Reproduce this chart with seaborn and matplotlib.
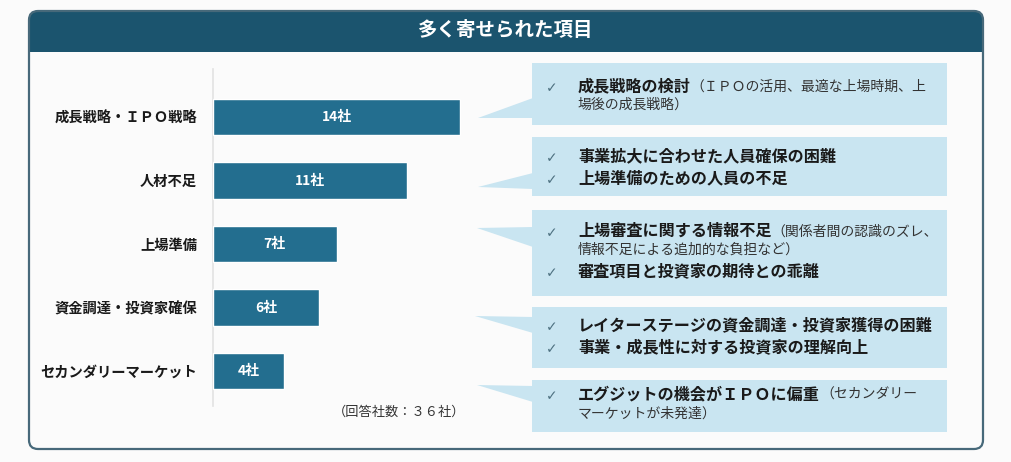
import matplotlib
matplotlib.use("Agg")
import matplotlib.pyplot as plt
from matplotlib.patches import FancyBboxPatch, Rectangle, Polygon
import seaborn as sns
import pandas as pd

# ---------------- data ----------------
title = "多く寄せられた項目"
categories = ["成長戦略・ＩＰＯ戦略", "人材不足", "上場準備", "資金調達・投資家確保", "セカンダリーマーケット"]
counts = [14, 11, 7, 6, 4]
value_suffix = "社"
note = "（回答社数：３６社）"

# callout lines: (has_check, bold part, regular part)
callout_1 = [(True, "成長戦略の検討", "（ＩＰＯの活用、最適な上場時期、上"), (False, "", "場後の成長戦略）")]
callout_2 = [(True, "事業拡大に合わせた人員確保の困難", ""), (True, "上場準備のための人員の不足", "")]
callout_3 = [(True, "上場審査に関する情報不足", "（関係者間の認識のズレ、"),
             (False, "", "情報不足による追加的な負担など）"),
             (True, "審査項目と投資家の期待との乖離", "")]
callout_4 = [(True, "レイターステージの資金調達・投資家獲得の困難", ""), (True, "事業・成長性に対する投資家の理解向上", "")]
callout_5 = [(True, "エグジットの機会がＩＰＯに偏重", "（セカンダリー"), (False, "", "マーケットが未発達）")]
callouts = [callout_1, callout_2, callout_3, callout_4, callout_5]

# ---------------- style ----------------
sns.set_theme(style="white")
plt.rcParams["font.family"] = ["Noto Sans CJK JP", "DejaVu Sans"]

W, H = 1011, 462
BG = "#fbfbfb"
HEADER = "#1b546e"
BORDER = "#47697a"
BAR = "#236e8f"
CALLOUT = "#c9e5f1"
TEXT = "#1a1a1a"
CHECK = "#4f7282"

fig = plt.figure(figsize=(W / 100, H / 100), dpi=100, facecolor=BG)

# background axes in pixel coordinates
bg = fig.add_axes([0, 0, 1, 1])
bg.set_xlim(0, W)
bg.set_ylim(H, 0)
bg.axis("off")
bg.set_facecolor(BG)

# outer panel
L, R, T, B = 29, 983, 11, 449
bg.add_patch(FancyBboxPatch((L, T), R - L, B - T, boxstyle="round,pad=0,rounding_size=9",
                            facecolor=BG, edgecolor="none", zorder=1))
bg.add_patch(FancyBboxPatch((L, T), R - L, 41, boxstyle="round,pad=0,rounding_size=9",
                            facecolor=HEADER, edgecolor="none", zorder=2))
bg.add_patch(Rectangle((L, 32), R - L, 20, facecolor=HEADER, edgecolor="none", zorder=2))
bg.add_patch(FancyBboxPatch((L, T), R - L, B - T, boxstyle="round,pad=0,rounding_size=9",
                            facecolor="none", edgecolor=BORDER, linewidth=1.6, zorder=3))
bg.text((L + R) / 2, 31, title, color="white", fontsize=14, fontweight="bold",
        ha="center", va="center", zorder=4)

# callout boxes
boxes = [(532, 63, 947, 125), (532, 137, 947, 196), (532, 210, 947, 296),
         (532, 307, 947, 368), (532, 380, 947, 432)]
tails = [[(478, 118), (533, 98), (533, 118)],
         [(478, 187), (533, 173), (533, 189)],
         [(477, 228), (533, 227), (533, 247)],
         [(475, 316), (533, 317), (533, 333)],
         [(477, 385), (533, 386), (533, 402)]]
line_y = [[86, 104], [156, 178], [231, 249, 271], [325, 347], [394, 413]]

for (x0, y0, x1, y1), tail in zip(boxes, tails):
    bg.add_patch(Rectangle((x0, y0), x1 - x0, y1 - y0, facecolor=CALLOUT, edgecolor="none", zorder=2))
    bg.add_patch(Polygon(tail, closed=True, facecolor=CALLOUT, edgecolor="none", zorder=2))

fig.canvas.draw()
renderer = fig.canvas.get_renderer()
TX = 578
for lines, ys in zip(callouts, line_y):
    for (chk, bold, reg), y in zip(lines, ys):
        if chk:
            bg.text(546, y + 2, "✓", color=CHECK, fontsize=10, ha="left", va="center",
                    family=["DejaVu Sans"], zorder=5)
        x = TX
        if bold:
            t = bg.text(x, y, bold, color=TEXT, fontsize=11.6, fontweight="bold",
                        ha="left", va="center", zorder=5)
            bb = t.get_window_extent(renderer)
            x = bb.x1
        if reg:
            bg.text(x, y + 1, reg, color="#333333", fontsize=10, ha="left", va="center", zorder=5)

# ---------------- bar chart ----------------
px_per_unit = 247 / 14
xmax = 16
ax_left = 213
ax_top, ax_bottom = 69.4, 406
ax = fig.add_axes([ax_left / W, (H - ax_bottom) / H, xmax * px_per_unit / W, (ax_bottom - ax_top) / H])
ax.patch.set_alpha(0)

df = pd.DataFrame({"category": categories, "count": counts})
sns.barplot(data=df, y="category", x="count", orient="h", color=BAR, saturation=1,
            width=0.57, ax=ax, zorder=3)
ax.set_xlim(0, xmax)
ax.set_ylim(4.55, -0.75)
ax.set_xlabel("")
ax.set_ylabel("")
ax.set_xticks([])
for s in ["top", "right", "bottom"]:
    ax.spines[s].set_visible(False)
ax.spines["left"].set_color("#e2e2e2")
ax.spines["left"].set_linewidth(1.2)
ax.tick_params(axis="y", length=0, pad=11.5)
for lab in ax.get_yticklabels():
    lab.set_fontweight("bold")
    lab.set_fontsize(10.3)
    lab.set_color(TEXT)

for cont in ax.containers:
    ax.bar_label(cont, labels=[f"{v}{value_suffix}" for v in counts], label_type="center",
                 color="white", fontsize=10, fontweight="bold")

bg.text(399, 412, note, color="#333333", fontsize=9.5, ha="center", va="center", zorder=5)

fig.savefig("out.png", dpi=100, facecolor=BG)
